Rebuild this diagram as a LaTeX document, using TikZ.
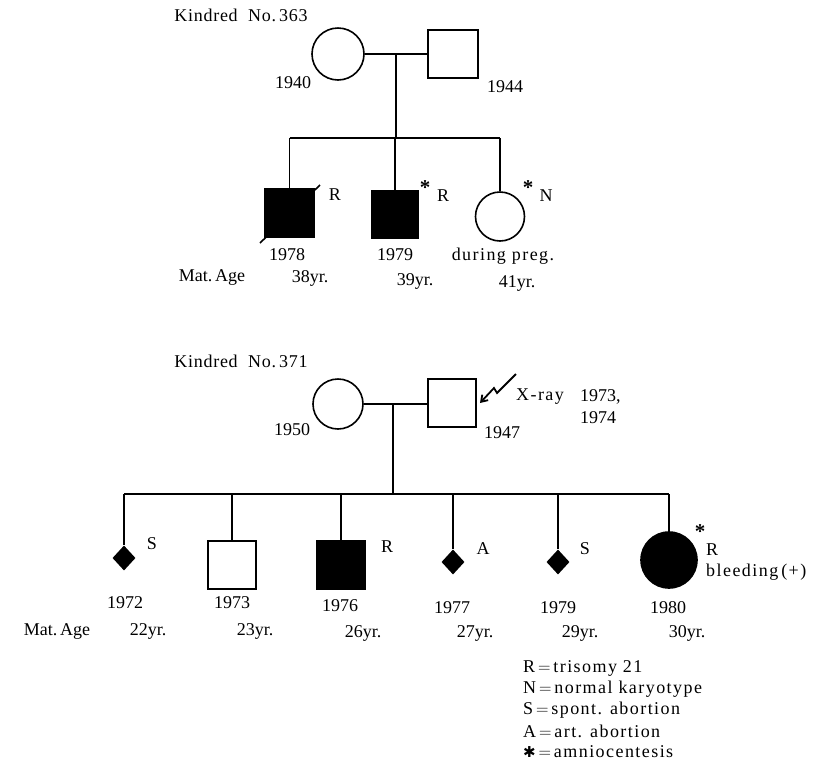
\documentclass[tikz,border=0pt]{standalone}
\usepackage{fontspec}
\setmainfont{Liberation Serif}
\newfontfamily\djv{DejaVu Sans}
\newfontfamily\widefont[LetterSpace=8]{Liberation Serif}
\newfontfamily\semiwidefont[LetterSpace=4]{Liberation Serif}
\usetikzlibrary{shapes.geometric,arrows.meta}
\begin{document}
\begin{tikzpicture}[x=1pt,y=-1pt,
  txt/.style={inner sep=0pt,font=\fontsize{18}{20}\selectfont},
  wtxt/.style={inner sep=0pt,font=\widefont\fontsize{18}{20}\selectfont},
  lbl/.style={txt,anchor=west},
  wlbl/.style={wtxt,anchor=west},
  pline/.style={line width=1.6pt},
  sq/.style={draw,line width=1.6pt,minimum size=47pt,inner sep=0pt},
  sqfill/.style={sq,fill=black},
  circ/.style={draw,circle,line width=1.6pt,inner sep=0pt},
  circfill/.style={circ,fill=black},
  dia/.style={diamond,fill=black,inner sep=0pt,minimum width=23pt,minimum height=25pt},
  star/.style={inner sep=0pt,font=\fontsize{21}{22}\selectfont\bfseries}
]
\useasboundingbox (0,0) rectangle (820,764);

% ---------- Kindred 363 ----------
\node[inner sep=0pt,font=\semiwidefont\fontsize{18}{20}\selectfont] (t1) at (241,15) {Kindred\ \ No.\,363};
\node[circ,minimum size=52pt] (m1) at (338,54) {};
\node[sq,minimum width=50pt,minimum height=48pt] (f1) at (453,54) {};
\coordinate (j1) at (396,54);
\coordinate (j1b) at (396,138);
\coordinate (s1l) at (289.5,138);
\coordinate (s1r) at (500,138);
\draw[pline] (m1.east) -- (f1.west);
\draw[pline] (j1) -- (j1b);
\draw[pline] (s1l) -- (s1r);

\node[sqfill,minimum width=49pt,minimum height=48pt] (c1) at (289.5,213) {};
\node[sqfill] (c2) at (395,214.5) {};
\node[circ,minimum size=49pt] (c3) at (500,216.5) {};
\draw[pline] (s1l) -- (c1.north);
\draw[pline] (395,138) -- (c2.north);
\draw[pline] (s1r) -- (c3.north);
\coordinate (sl1) at (260,243);
\coordinate (sl2) at (320,185);
\draw[line width=1.6pt] (sl1) -- (sl2);

\node[txt] (y1940) at (293,83) {1940};
\node[txt] (y1944) at (505,87) {1944};
\node[txt] (r1) at (335,195) {R};
\node[star] (st1) at (425,188) {*};
\node[txt] (r2) at (443,196) {R};
\node[star] (st2) at (528,188) {*};
\node[txt] (n1) at (546,196) {N};
\node[txt] (y1978) at (287,255) {1978};
\node[txt] (y1979a) at (395,255) {1979};
\node[wtxt] (dp) at (503,256) {during\ preg.};
\node[txt] (ma1) at (212,277) {Mat.\,Age};
\node[txt] (a38) at (310,278) {38yr.};
\node[txt] (a39) at (415,281) {39yr.};
\node[txt] (a41) at (517,283) {41yr.};

% ---------- Kindred 371 ----------
\node[inner sep=0pt,font=\semiwidefont\fontsize{18}{20}\selectfont] (t2) at (241,361) {Kindred\ \ No.\,371};
\node[circ,minimum size=50pt] (m2) at (338,404) {};
\node[sq,minimum size=48pt] (f2) at (452,403) {};
\coordinate (j2) at (393,404);
\coordinate (j2b) at (393,494);
\coordinate (s2l) at (124,494);
\coordinate (s2r) at (669,494);
\draw[pline] (m2.east) -- (m2.east -| f2.west);
\draw[pline] (j2) -- (j2b);
\draw[pline] (s2l) -- (s2r);

\node[dia] (d1) at (124,558) {};
\node[sq,minimum size=48pt] (b1) at (232,565) {};
\node[sqfill,minimum size=48pt] (b2) at (341,565) {};
\node[dia] (d2) at (453,562) {};
\node[dia] (d3) at (558,562) {};
\node[circfill,minimum size=56pt] (g1) at (669,560) {};
\draw[pline] (s2l) -- (d1.north);
\draw[pline] (232,494) -- (b1.north);
\draw[pline] (341,494) -- (b2.north);
\draw[pline] (453,494) -- (d2.north);
\draw[pline] (558,494) -- (d3.north);
\draw[pline] (s2r) -- (g1.north);

% X-ray arrow
\coordinate (xa) at (516,374);
\coordinate (xb) at (497,393);
\coordinate (xc) at (494,388);
\coordinate (xd) at (480,403);
\draw[line width=1.8pt,-{Straight Barb[length=6pt,width=8pt]}] (xa) -- (xb) -- (xc) -- (xd);
\node[wlbl] (xr) at (516,397) {X-ray};
\node[lbl] (x73) at (580,397) {1973,};
\node[lbl] (x74) at (580,418) {1974};
\node[txt] (y1950) at (292,430) {1950};
\node[txt] (y1947) at (502,433) {1947};

\node[txt] (lS1) at (152,544) {S};
\node[txt] (lR3) at (387,547) {R};
\node[txt] (lA) at (483,549) {A};
\node[txt] (lS2) at (585,549) {S};
\node[star] (st3) at (700,532) {*};
\node[lbl] (lR4) at (706,550) {R};
\node[wlbl] (bl) at (706,572) {bleeding\,(+)};

\node[txt] (y1972) at (125,603) {1972};
\node[txt] (y1973) at (232,603) {1973};
\node[txt] (y1976) at (340,606) {1976};
\node[txt] (y1977) at (452,608) {1977};
\node[txt] (y1979b) at (558,608) {1979};
\node[txt] (y1980) at (668,608) {1980};
\node[txt] (ma2) at (57,631) {Mat.\,Age};
\node[txt] (a22) at (148,631) {22yr.};
\node[txt] (a23) at (255,631) {23yr.};
\node[txt] (a26) at (363,633) {26yr.};
\node[txt] (a27) at (475,633) {27yr.};
\node[txt] (a29) at (580,633) {29yr.};
\node[txt] (a30) at (687,633) {30yr.};

% legend
\node[wlbl] (lg1) at (523,668) {R$\,=\,$trisomy 21};
\node[wlbl] (lg2) at (523,689) {N$\,=\,$normal karyotype};
\node[wlbl] (lg3) at (523,710) {S$\,=\,$spont. abortion};
\node[wlbl] (lg4) at (523,731) {A$\,=\,$art. abortion};
\node[wlbl] (lg5) at (523,752) {{\djv\fontsize{15}{18}\selectfont ✱}$\,=\,$amniocentesis};
\end{tikzpicture}
\end{document}
